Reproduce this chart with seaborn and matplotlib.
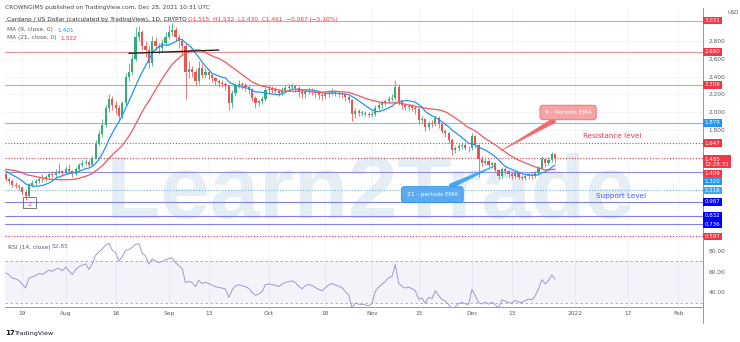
import numpy as np
import pandas as pd
import matplotlib
matplotlib.use("Agg")
import matplotlib.pyplot as plt
import matplotlib.dates as mdates
import matplotlib.transforms as mtransforms
from matplotlib.patches import Rectangle
from matplotlib.lines import Line2D
import seaborn as sns

# ---------------- data ----------------
start_date = "2021-07-14"
pre_closes = [1.30, 1.38, 1.26, 1.30, 1.38, 1.34, 1.44, 1.40, 1.32, 1.39,
              1.42, 1.45, 1.38, 1.42, 1.40, 1.32, 1.36, 1.33, 1.36, 1.28, 1.30]
first_open = 1.30
closes = [1.25, 1.22, 1.18, 1.17, 1.15, 1.10, 1.05, 1.18, 1.20, 1.22,
          1.25, 1.24, 1.27, 1.30, 1.29, 1.32, 1.33, 1.31, 1.36, 1.33,
          1.30, 1.36, 1.40, 1.42, 1.44, 1.40, 1.48, 1.65, 1.75, 1.85,
          2.05, 2.15, 2.08, 2.05, 1.95, 2.10, 2.40, 2.45, 2.60, 2.85,
          2.90, 2.75, 2.70, 2.55, 2.80, 2.75, 2.72, 2.78, 2.85, 2.90,
          2.93, 2.85, 2.80, 2.75, 2.45, 2.48, 2.45, 2.35, 2.50, 2.42,
          2.45, 2.42, 2.38, 2.35, 2.33, 2.32, 2.30, 2.10, 2.22, 2.30,
          2.32, 2.30, 2.28, 2.25, 2.16, 2.10, 2.12, 2.15, 2.25, 2.26,
          2.25, 2.24, 2.22, 2.25, 2.27, 2.28, 2.29, 2.27, 2.23, 2.20,
          2.23, 2.24, 2.23, 2.21, 2.19, 2.18, 2.20, 2.22, 2.23, 2.22,
          2.21, 2.20, 2.17, 2.14, 1.98, 2.01, 1.99, 1.99, 1.98, 1.97,
          1.98, 2.05, 2.08, 2.10, 2.12, 2.15, 2.16, 2.28, 2.12, 2.08,
          2.06, 2.07, 2.05, 2.03, 1.91, 1.92, 1.83, 1.88, 1.86, 1.93,
          1.86, 1.79, 1.76, 1.69, 1.57, 1.59, 1.62, 1.63, 1.60, 1.59,
          1.73, 1.63, 1.47, 1.43, 1.45, 1.40, 1.42, 1.35, 1.28, 1.36,
          1.33, 1.30, 1.28, 1.31, 1.27, 1.26, 1.28, 1.29, 1.28, 1.31,
          1.37, 1.47, 1.42, 1.46, 1.53, 1.485]
highs = [1.32, 1.27, 1.24, 1.21, 1.19, 1.16, 1.12, 1.20, 1.23, 1.25,
         1.27, 1.30, 1.29, 1.32, 1.33, 1.36, 1.42, 1.35, 1.39, 1.41,
         1.35, 1.38, 1.43, 1.46, 1.47, 1.46, 1.50, 1.68, 1.80, 1.92,
         2.08, 2.20, 2.18, 2.12, 2.08, 2.13, 2.44, 2.55, 2.66, 2.96,
         2.97, 2.92, 2.80, 2.74, 2.86, 2.85, 2.78, 2.82, 2.90, 2.98,
         3.00, 2.96, 2.88, 2.84, 2.78, 2.58, 2.52, 2.48, 2.58, 2.54,
         2.50, 2.48, 2.44, 2.40, 2.37, 2.36, 2.34, 2.31, 2.25, 2.33,
         2.36, 2.34, 2.33, 2.30, 2.27, 2.18, 2.14, 2.18, 2.28, 2.30,
         2.29, 2.28, 2.26, 2.28, 2.30, 2.32, 2.33, 2.31, 2.29, 2.25,
         2.26, 2.28, 2.27, 2.25, 2.23, 2.22, 2.23, 2.25, 2.27, 2.25,
         2.24, 2.23, 2.22, 2.19, 2.15, 2.04, 2.03, 2.02, 2.01, 2.00,
         2.01, 2.08, 2.11, 2.13, 2.15, 2.18, 2.20, 2.36, 2.32, 2.14,
         2.10, 2.10, 2.09, 2.07, 2.05, 1.95, 1.93, 1.90, 1.91, 1.96,
         1.95, 1.88, 1.81, 1.78, 1.71, 1.62, 1.65, 1.66, 1.65, 1.62,
         1.76, 1.74, 1.64, 1.50, 1.48, 1.47, 1.44, 1.44, 1.36, 1.38,
         1.38, 1.35, 1.32, 1.33, 1.32, 1.29, 1.30, 1.31, 1.31, 1.33,
         1.39, 1.50, 1.48, 1.49, 1.55, 1.532]
lows = [1.22, 1.19, 1.15, 1.14, 1.12, 1.07, 1.01, 1.04, 1.16, 1.18,
        1.20, 1.21, 1.22, 1.25, 1.26, 1.27, 1.30, 1.28, 1.30, 1.31,
        1.27, 1.29, 1.34, 1.38, 1.40, 1.38, 1.39, 1.47, 1.62, 1.72,
        1.83, 2.00, 2.02, 1.98, 1.90, 1.93, 2.08, 2.35, 2.42, 2.58,
        2.80, 2.70, 2.62, 2.50, 2.52, 2.70, 2.66, 2.68, 2.74, 2.82,
        2.86, 2.80, 2.72, 2.66, 2.15, 2.38, 2.40, 2.30, 2.32, 2.38,
        2.38, 2.37, 2.34, 2.30, 2.28, 2.28, 2.25, 2.02, 2.05, 2.18,
        2.27, 2.26, 2.24, 2.20, 2.12, 2.05, 2.07, 2.09, 2.12, 2.22,
        2.21, 2.20, 2.18, 2.19, 2.22, 2.24, 2.25, 2.23, 2.17, 2.16,
        2.16, 2.20, 2.19, 2.17, 2.15, 2.14, 2.15, 2.17, 2.19, 2.18,
        2.17, 2.16, 2.13, 2.10, 1.90, 1.93, 1.96, 1.96, 1.95, 1.94,
        1.94, 1.96, 2.02, 2.05, 2.07, 2.09, 2.12, 2.14, 2.08, 2.03,
        2.02, 2.02, 2.01, 1.98, 1.87, 1.88, 1.79, 1.80, 1.83, 1.84,
        1.82, 1.76, 1.72, 1.65, 1.52, 1.54, 1.56, 1.58, 1.57, 1.55,
        1.57, 1.59, 1.27, 1.39, 1.40, 1.36, 1.37, 1.32, 1.24, 1.26,
        1.30, 1.27, 1.25, 1.26, 1.24, 1.23, 1.23, 1.25, 1.25, 1.26,
        1.29, 1.35, 1.38, 1.40, 1.44, 1.43]

ma_fast_len, ma_slow_len, rsi_len = 9, 21, 14

level_values = [3.031, 2.680, 2.309, 1.879, 1.647, 1.485, 1.320, 1.116, 0.987, 0.832, 0.736, 0.597]
level_colors = ['#f3949a', '#f3949a', '#f3949a', '#7fbdf5', '#f23645', '#f23645',
                '#8a8cf0', '#64b5f6', '#7f80f2', '#7f80f2', '#7f80f2', '#f23645']
level_dotted = [False, False, False, False, True, True, False, True, False, False, False, True]

tag_values = [3.031, 2.680, 2.309, 1.879, 1.647, 1.485, 1.409, 1.320, 1.116, 0.987, 0.832, 0.736, 0.597]
tag_texts = ["3.031", "2.680", "2.309", "1.879", "1.647", "1.485\n12:28:31", "1.409", "1.320",
             "1.116", "0.987", "0.832", "0.736", "0.597"]
tag_colors = ['#f23645', '#f23645', '#f23645', '#2196f3', '#f23645', '#f23645', '#f23645', '#2196f3',
              '#42a5f5', '#0000ff', '#0000ff', '#0000ff', '#f23645']
tag_shift_px = [0, 0, 0, 0, 0, -4, -9, -9, 0, 0, 0, 0, 0]

price_ticks = [2.8, 2.6, 2.4, 2.2, 2.0, 1.8]
rsi_ticks = [80, 60, 40]
xtick_dates = ["2021-07-19", "2021-08-01", "2021-08-16", "2021-09-01", "2021-09-13", "2021-10-01",
               "2021-10-18", "2021-11-01", "2021-11-15", "2021-12-01", "2021-12-13", "2022-01-01",
               "2022-01-17", "2022-02-01"]
xtick_labels = ["19", "Aug", "16", "Sep", "13", "Oct", "18", "Nov", "15", "Dec", "13", "2022", "17", "Feb"]

trend_dates = ["2021-08-20", "2021-09-16"]
trend_values = [2.662, 2.699]

# ---------------- derived ----------------
dates = pd.date_range(start_date, periods=len(closes), freq="D")
opens = [first_open] + closes[:-1]
df = pd.DataFrame(dict(date=dates, open=opens, high=highs, low=lows, close=closes))
all_close = pd.Series(pre_closes + closes, dtype=float)
n_pre = len(pre_closes)
df["ma9"] = all_close.rolling(ma_fast_len).mean().iloc[n_pre:].values
df["ma21"] = all_close.rolling(ma_slow_len).mean().iloc[n_pre:].values
delta = all_close.diff()
gain = delta.clip(lower=0).ewm(alpha=1 / rsi_len, adjust=False).mean()
loss = (-delta.clip(upper=0)).ewm(alpha=1 / rsi_len, adjust=False).mean()
df["rsi"] = (100 - 100 / (1 + gain / loss)).iloc[n_pre:].values

t0 = pd.Timestamp(start_date)
def day(d):
    return t0 + pd.Timedelta(days=d)

# ---------------- figure ----------------
sns.set_theme(style="white")
plt.rcParams['font.family'] = ['DejaVu Sans']
W, H = 740, 342
fig = plt.figure(figsize=(7.4, 3.42), dpi=100)
fig.patch.set_facecolor('white')
def fx(px): return px / W
def fy(py): return 1 - py / H

ax = fig.add_axes([fx(5), fy(238), (703 - 5) / W, (238 - 8) / H])
axr = fig.add_axes([fx(5), fy(307), (703 - 5) / W, (307 - 238) / H], sharex=ax)
for a in (ax, axr):
    a.set_facecolor('white')

GREEN, RED = '#36ad78', '#ef5350'
GRID = '#f0f3fa'
TXT = '#555a66'

# watermark
ax.text(day(109.6), 0.805, "Learn2Trade", fontsize=64, fontweight='bold', family='Liberation Sans',
        color='#c3d8e6', alpha=0.42, ha='center', va='baseline', zorder=1)

# levels
for v, c, dot in zip(level_values, level_colors, level_dotted):
    ax.axhline(v, color=c, lw=0.8, ls=(0, (1, 1.6)) if dot else '-', zorder=2)

# candles
up = df.close >= df.open
cols = np.where(up, GREEN, RED)
ax.vlines(df.date, df.low, df.high, colors=cols, lw=0.55, zorder=3)
body = (df.close - df.open).abs().clip(lower=0.006)
ax.bar(df.date, body, bottom=np.minimum(df.open, df.close), width=0.64, color=cols, lw=0, zorder=4)

# moving averages
sns.lineplot(x=df.date, y=df.ma9, ax=ax, color='#2196f3', lw=0.9, zorder=5)
sns.lineplot(x=df.date, y=df.ma21, ax=ax, color='#f0585d', lw=0.9, zorder=5)

# trend line
ax.plot(pd.to_datetime(trend_dates), trend_values, color='#222222', lw=1.0, zorder=6)

# box around the low
x0 = mdates.date2num(day(5.1))
ax.add_patch(Rectangle((x0, 0.918), 3.9, 0.124, fill=False, ec='#666666', lw=0.6, zorder=6))
ax.text(day(7.1), 0.93, "2", color='#f23645', fontsize=4.5, ha='center', va='bottom', zorder=7)

# callouts
ax.annotate("9 - Periods EMA", xy=(day(148.6), 1.561), xytext=(day(168.9), 1.995),
            fontsize=4.3, color='white', ha='center', va='center', zorder=8,
            bbox=dict(boxstyle='round,pad=0.8,rounding_size=0.5', fc='#f4a3a7', ec='#ef6a6f', lw=0.6),
            arrowprops=dict(arrowstyle='wedge,tail_width=0.8', fc='#ef6a6f', ec='#ef6a6f', lw=0.4,
                            shrinkA=0, shrinkB=0))
ax.annotate("21 - periods EMA", xy=(day(147.4), 1.403), xytext=(day(128.1), 1.070),
            fontsize=4.3, color='white', ha='center', va='center', zorder=8,
            bbox=dict(boxstyle='round,pad=0.9,rounding_size=0.5', fc='#5eaaf0', ec='#2196f3', lw=0.6),
            arrowprops=dict(arrowstyle='wedge,tail_width=0.8', fc='#42a5f5', ec='#42a5f5', lw=0.4,
                            shrinkA=0, shrinkB=0))
ax.text(day(182), 1.73, "Resistance level", color='#f23645', fontsize=5.2, ha='center', va='center', zorder=8)
ax.text(day(184.7), 1.053, "Support Level", color='#3d5afe', fontsize=5.2, ha='center', va='center', zorder=8)

# axes limits / ticks
ax.set_xlim(t0 - pd.Timedelta(hours=5), t0 + pd.Timedelta(days=209.4))
ax.set_ylim(0.580, 3.173)
ax.yaxis.tick_right()
ax.set_yticks(price_ticks)
ax.set_yticklabels([f"{v:.3f}" for v in price_ticks])
ax.tick_params(axis='y', length=0, pad=4, labelsize=4.2, labelcolor=TXT)
ax.tick_params(axis='x', length=0, labelbottom=False)
ax.set_xlabel(""); ax.set_ylabel("")
ax.grid(True, color=GRID, lw=0.6)
for s in ('top', 'left', 'bottom'):
    ax.spines[s].set_visible(False)
ax.spines['right'].set_color('#9598a1'); ax.spines['right'].set_linewidth(0.7)

# price tags on the right
trans = mtransforms.blended_transform_factory(ax.transAxes, ax.transData)
for v, t, c, s in zip(tag_values, tag_texts, tag_colors, tag_shift_px):
    ax.annotate(t, xy=(1.0, v), xycoords=trans, xytext=(1.2, s * 0.72), textcoords='offset points',
                ha='left', va='center', fontsize=4.0, color='white', linespacing=1.0,
                bbox=dict(boxstyle='square,pad=0.25', fc=c, ec='none'),
                annotation_clip=False, zorder=10)
fig.text(fx(727), fy(12), "USD", fontsize=3.8, color=TXT, ha='left', va='center')

# RSI pane
axr.axhspan(30, 70, color='#7e57c2', alpha=0.07, lw=0)
axr.axhline(70, color='#a3a6af', lw=0.6, ls=(0, (3, 3)))
axr.axhline(30, color='#a3a6af', lw=0.6, ls=(0, (3, 3)))
sns.lineplot(x=df.date, y=df.rsi, ax=axr, color='#a396cc', lw=0.7, zorder=4)
axr.set_ylim(25.7, 92.4)
axr.yaxis.tick_right()
axr.set_yticks(rsi_ticks)
axr.set_yticklabels([f"{v:.2f}" for v in rsi_ticks])
axr.tick_params(axis='y', length=0, pad=4, labelsize=4.2, labelcolor=TXT)
axr.set_xticks(pd.to_datetime(xtick_dates))
axr.set_xticklabels(xtick_labels)
axr.tick_params(axis='x', length=0, pad=3, labelsize=4.2, labelcolor=TXT)
axr.set_xlabel(""); axr.set_ylabel("")
axr.grid(True, axis='x', color=GRID, lw=0.6)
for s in ('top', 'left'):
    axr.spines[s].set_visible(False)
for s in ('right', 'bottom'):
    axr.spines[s].set_color('#9598a1'); axr.spines[s].set_linewidth(0.7)
fig.text(fx(8), fy(247), "RSI (14, close)", fontsize=4.2, color=TXT, ha='left', va='center', zorder=9,
         bbox=dict(boxstyle='square,pad=0.3', fc='white', ec='none', alpha=0.8))
fig.text(fx(52), fy(247), "52.85", fontsize=4.2, color='#7e57c2', ha='left', va='center', zorder=9)

# extend right scale line down
fig.add_artist(Line2D([fx(703), fx(703)], [fy(307), fy(323)], color='#9598a1', lw=0.7))

# header texts
fig.text(fx(5), fy(7), "CROWNGIMS published on TradingView.com, Dec 28, 2021 10:31 UTC",
         fontsize=4.2, color='#444444', ha='left', va='center')
fig.text(fx(7), fy(20), "Cardano / US Dollar (calculated by TradingView), 1D, CRYPTO",
         fontsize=4.2, color='#333333', ha='left', va='center')
fig.text(fx(188), fy(20), "O1.515  H1.532  L1.430  C1.461  \u22120.067 (\u22125.10%)",
         fontsize=4.2, color='#f23645', ha='left', va='center')
fig.text(fx(7), fy(30), "MA (9, close, 0)", fontsize=4.2, color=TXT, ha='left', va='center')
fig.text(fx(57), fy(30), "1.401", fontsize=4.2, color='#2196f3', ha='left', va='center')
fig.text(fx(7), fy(38), "MA (21, close, 0)", fontsize=4.2, color=TXT, ha='left', va='center')
fig.text(fx(60), fy(38), "1.322", fontsize=4.2, color='#f23645', ha='left', va='center')

# TradingView logo
fig.text(fx(5), fy(333), "17", fontsize=5, fontweight='bold', color='#131722', ha='left', va='center')
fig.text(fx(14), fy(333), "TradingView", fontsize=4.6, color='#131722', ha='left', va='center')

fig.savefig("out.png", dpi=100, facecolor='white')
